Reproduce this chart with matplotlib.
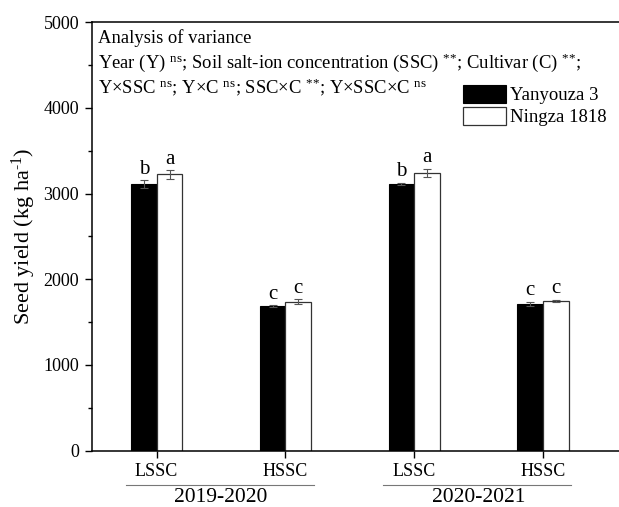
import matplotlib
matplotlib.use("Agg")
import matplotlib.pyplot as plt
import numpy as np

plt.rcParams['font.family'] = ['Liberation Serif', 'DejaVu Serif']
plt.rcParams['mathtext.fontset'] = 'custom'
plt.rcParams['mathtext.rm'] = 'Liberation Serif'
plt.rcParams['mathtext.it'] = 'Liberation Serif:italic'

years = ["2019-2020", "2020-2021"]
treatments = ["LSSC", "HSSC", "LSSC", "HSSC"]
cultivars = ["Yanyouza 3", "Ningza 1818"]

yield_y3 = [3110, 1685, 3115, 1715]
err_y3 = [45, 12, 10, 25]
letters_y3 = ["b", "c", "b", "c"]

yield_n1818 = [3225, 1740, 3240, 1748]
err_n1818 = [50, 30, 50, 12]
letters_n1818 = ["a", "c", "a", "c"]

NS = r"$^{\text{ns}}$"
SS = r"$^{\text{**}}$"
anova_lines = [
    "Analysis of variance",
    "Year (Y) " + NS + "; Soil salt-ion concentration (SSC) " + SS + "; Cultivar (C) " + SS + ";",
    "Y\u00d7SSC " + NS + "; Y\u00d7C " + NS + "; SSC\u00d7C " + SS + "; Y\u00d7SSC\u00d7C " + NS,
]

fig = plt.figure(figsize=(6.19, 5.07), dpi=100)
ax = fig.add_axes([0.148, 0.1114, 0.862, 0.8446])

x = np.arange(1, len(treatments) + 1)
w = 0.2
ekw = dict(ecolor='#555555', elinewidth=0.8, capsize=3, capthick=0.8)
ax.bar(x - w / 2, yield_y3, w, color='black', edgecolor='black', linewidth=0.8,
       yerr=err_y3, error_kw=ekw, label=cultivars[0])
ax.bar(x + w / 2, yield_n1818, w, color='white', edgecolor='#333333', linewidth=0.9,
       yerr=err_n1818, error_kw=ekw, label=cultivars[1])

for xi, v, e, t in zip(x - w / 2, yield_y3, err_y3, letters_y3):
    ax.annotate(t, (xi, v + e), xytext=(0, 1), textcoords='offset points',
                ha='center', va='bottom', fontsize=15)
for xi, v, e, t in zip(x + w / 2, yield_n1818, err_n1818, letters_n1818):
    ax.annotate(t, (xi, v + e), xytext=(0, 1), textcoords='offset points',
                ha='center', va='bottom', fontsize=15)

ax.set_xlim(0.4953, 4.637)
ax.set_ylim(0, 5000)
ax.set_yticks(np.arange(0, 5001, 1000))
ax.set_yticks(np.arange(500, 5000, 1000), minor=True)
ax.set_xticks(x)
ax.set_xticklabels(treatments)
ax.tick_params(axis='both', which='major', direction='out', length=5, width=1,
               labelsize=13, pad=4)
ax.tick_params(axis='y', which='minor', direction='out', length=3, width=1)
for s in ['left', 'bottom', 'top', 'right']:
    ax.spines[s].set_linewidth(1.1)

ax.set_ylabel(r"Seed yield (kg ha$^{\text{-1}}$)", fontsize=16)
ax.yaxis.set_label_coords(-0.10, 0.5)

# year group labels with separator lines
trans = ax.get_xaxis_transform()
for i, yr in enumerate(years):
    c0, c1 = x[2 * i], x[2 * i + 1]
    ax.plot([c0 - 0.24, c1 + 0.22], [-0.0806, -0.0806], transform=trans,
            color='#777777', lw=0.8, clip_on=False)
    ax.text((c0 + c1) / 2, -0.109, yr, transform=trans, ha='center', va='center',
            fontsize=15.5)

for yy, line in zip([0.9517, 0.893, 0.835], anova_lines):
    ax.text(0.012, yy, line, transform=ax.transAxes, ha='left', va='baseline', fontsize=13.4)

ax.legend(loc='upper left', bbox_to_anchor=(0.6957, 0.8536), frameon=False, fontsize=13.5,
          handlelength=2.3, handleheight=1.1, labelspacing=0.12, handletextpad=0.2,
          borderpad=0, borderaxespad=0)

fig.savefig("out.png", dpi=100)
